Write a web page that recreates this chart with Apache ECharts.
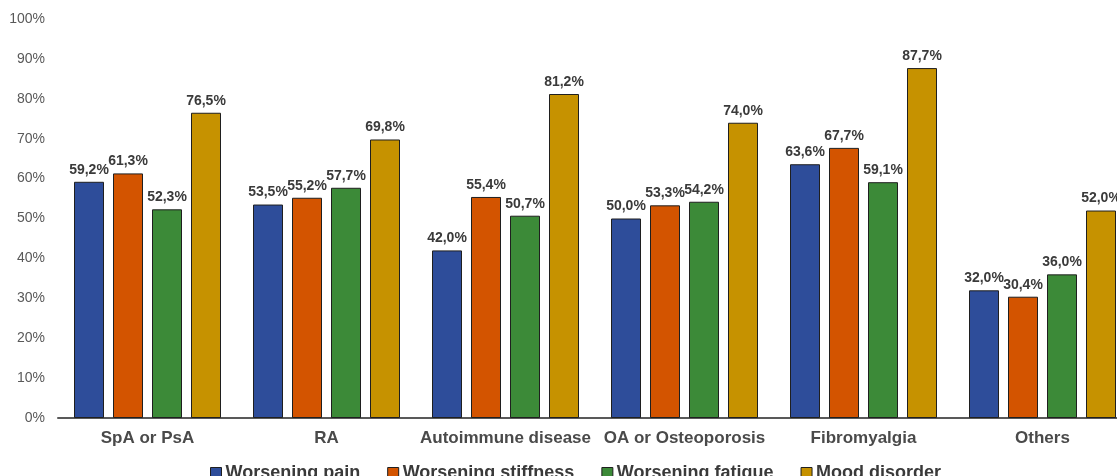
<!DOCTYPE html>
<html>
<head>
<meta charset="utf-8">
<script src="https://cdn.jsdelivr.net/npm/echarts@6/dist/echarts.min.js"></script>
<style>
  html, body { margin: 0; padding: 0; background: #fff; }
  #chart { width: 1117px; height: 476px; }
</style>
</head>
<body>
<div id="chart"></div>
<script>
const categories = ['SpA or PsA', 'RA', 'Autoimmune disease', 'OA or Osteoporosis', 'Fibromyalgia', 'Others']
const seriesNames = ['Worsening pain', 'Worsening stiffness', 'Worsening fatigue', 'Mood disorder']
const painValues = [59.2, 53.5, 42.0, 50.0, 63.6, 32.0]
const stiffnessValues = [61.3, 55.2, 55.4, 53.3, 67.7, 30.4]
const fatigueValues = [52.3, 57.7, 50.7, 54.2, 59.1, 36.0]
const moodValues = [76.5, 69.8, 81.2, 74.0, 87.7, 52.0]
const colors = ['#2E4D9A', '#D35400', '#3C8A38', '#C69200']

const allValues = [painValues, stiffnessValues, fatigueValues, moodValues]
const font = 'Liberation Sans, Arial, sans-serif'

const chart = echarts.init(document.getElementById('chart'))

const series = seriesNames.map((name, i) => ({
  name: name,
  type: 'bar',
  data: allValues[i],
  barWidth: 30,
  barGap: '30%',
  itemStyle: {
    color: colors[i],
    borderColor: '#1f1f1f',
    borderWidth: 1
  },
  label: {
    show: true,
    position: 'top',
    distance: 5,
    color: '#3a3a3a',
    fontSize: 14,
    fontWeight: 'bold',
    fontFamily: font,
    formatter: p => p.value.toFixed(1).replace('.', ',') + '%'
  }
}))

chart.setOption({
  animation: false,
  grid: { left: 58, right: -15, top: 19, bottom: 58, outerBoundsMode: 'none' },
  legend: {
    data: seriesNames,
    left: 205,
    top: 459,
    itemWidth: 11,
    itemHeight: 11,
    itemGap: 27,
    icon: 'rect',
    itemStyle: { borderColor: '#1f1f1f', borderWidth: 1 },
    textStyle: {
      color: '#3a3a3a',
      fontSize: 18,
      fontWeight: 'bold',
      fontFamily: font,
      padding: [0, 0, 0, -1]
    }
  },
  xAxis: {
    type: 'category',
    data: categories,
    axisLine: { lineStyle: { color: '#595959', width: 2 } },
    axisTick: { show: false },
    axisLabel: {
      interval: 0,
      color: '#4a4a4a',
      fontSize: 17,
      fontWeight: 'bold',
      margin: 12,
      fontFamily: font
    }
  },
  yAxis: {
    type: 'value',
    min: 0,
    max: 100,
    interval: 10,
    splitLine: { show: false },
    axisLine: { show: false },
    axisTick: { show: false },
    axisLabel: {
      color: '#595959',
      fontSize: 14,
      margin: 13,
      fontFamily: font,
      formatter: '{value}%'
    }
  },
  series: series
})
</script>
</body>
</html>
